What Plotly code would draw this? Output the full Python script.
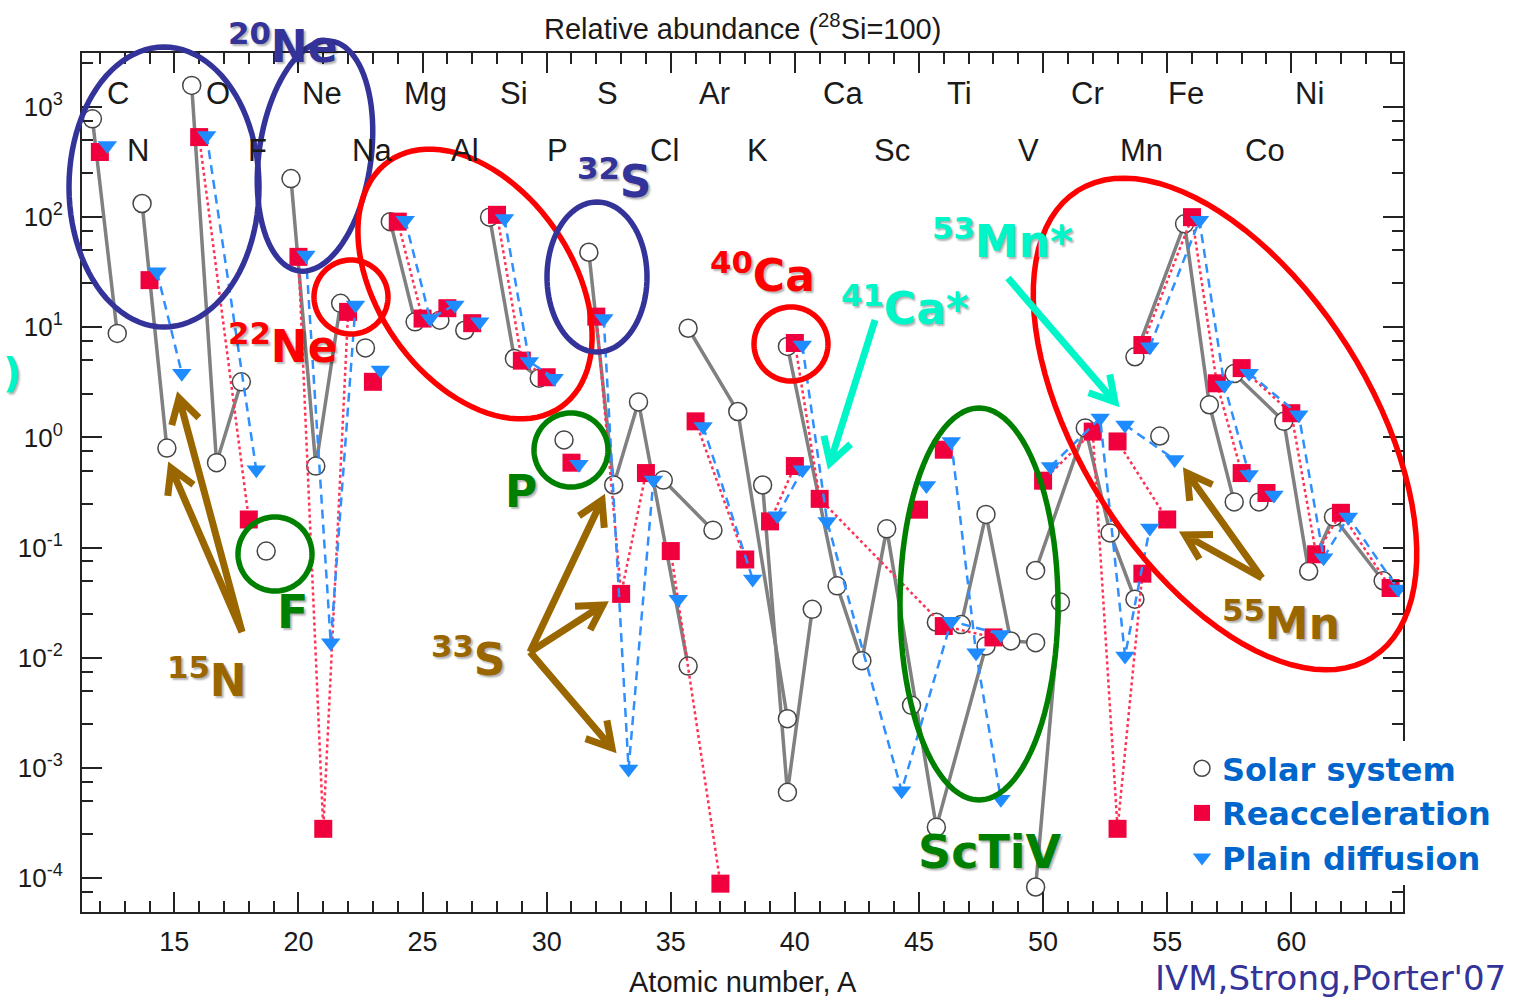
import math
import numpy as np
import plotly.graph_objects as go

# ---------------- data (relative abundance, 28Si = 100) ----------------
solar_el = ["C", "C", "N", "N", "O", "O", "O", "F", "Ne", "Ne", "Ne", "Na", "Mg", "Mg", "Mg", "Al",
            "Si", "Si", "Si", "P", "S", "S", "S", "S", "Cl", "Cl", "Ar", "Ar", "Ar", "K", "K", "K",
            "Ca", "Ca", "Ca", "Ca", "Ca", "Ca", "Sc", "Ti", "Ti", "Ti", "Ti", "Ti", "V", "V",
            "Cr", "Cr", "Cr", "Cr", "Mn", "Fe", "Fe", "Fe", "Fe", "Co", "Ni", "Ni", "Ni", "Ni", "Ni"]
solar_A = [12, 13, 14, 15, 16, 17, 18, 19, 20, 21, 22, 23, 24, 25, 26, 27,
           28, 29, 30, 31, 32, 33, 34, 36, 35, 37, 36, 38, 40, 39, 40, 41,
           40, 42, 43, 44, 46, 48, 45, 46, 47, 48, 49, 50, 50, 51,
           50, 52, 53, 54, 55, 54, 56, 57, 58, 59, 58, 60, 61, 62, 64]
solar_val = [780, 8.8, 133, 0.80, 1570, 0.59, 3.2, 0.093, 224, 0.55, 16.5, 6.5, 91, 11.2, 11.6, 9.4,
             100, 5.2, 3.45, 0.95, 48, 0.37, 2.1, 0.0084, 0.41, 0.144, 9.8, 1.72, 0.0028, 0.37, 6.0e-4, 0.0275,
             6.7, 0.045, 0.0094, 0.148, 2.9e-4, 0.0128, 0.0037, 0.021, 0.020, 0.20, 0.0142, 0.0137, 8.3e-5, 0.032,
             0.062, 1.22, 0.136, 0.034, 1.03, 5.4, 87, 1.98, 0.26, 0.26, 3.8, 1.40, 0.061, 0.19, 0.050]

reacc_el = ["C", "N", "O", "O", "Ne", "Ne", "Ne", "Na", "Mg", "Mg", "Mg", "Al", "Si", "Si", "Si", "P",
            "S", "S", "S", "Cl", "Cl", "Ar", "Ar", "K", "K", "Ca", "Ca", "Ca", "Ca", "Sc", "Ti",
            "Cr", "Cr", "Cr", "Cr", "Mn", "Mn", "Fe", "Fe", "Fe", "Fe", "Co", "Ni", "Ni", "Ni", "Ni", "Ni"]
reacc_A = [12, 14, 16, 18, 20, 21, 22, 23, 24, 25, 26, 27, 28, 29, 30, 31,
           32, 33, 34, 35, 37, 36, 38, 39, 40, 40, 41, 46, 48, 45, 46,
           50, 52, 53, 54, 53, 55, 54, 56, 57, 58, 59, 58, 60, 61, 62, 64]
reacc_val = [390, 26.8, 533, 0.18, 43.6, 2.8e-4, 13.8, 3.2, 91, 12.0, 14.9, 10.9, 105, 4.98, 3.52, 0.59,
             12.5, 0.038, 0.475, 0.093, 8.9e-5, 1.40, 0.078, 0.173, 0.55, 7.2, 0.277, 0.0194, 0.0153, 0.221, 0.774,
             0.405, 1.13, 2.8e-4, 0.058, 0.92, 0.18, 6.9, 100, 3.1, 0.475, 0.313, 4.26, 1.66, 0.087, 0.207, 0.043]

plain_el = ["C", "N", "N", "O", "O", "Ne", "Ne", "Ne", "Na", "Mg", "Mg", "Mg", "Al", "Si", "Si", "Si", "P",
            "S", "S", "S", "Cl", "Ar", "Ar", "K", "K", "Ca", "Ca", "Ca", "Ca", "Ca", "Sc", "Ti", "Ti", "Ti",
            "Cr", "Cr", "Cr", "Cr", "Mn", "Mn", "Fe", "Fe", "Fe", "Fe", "Co", "Ni", "Ni", "Ni", "Ni", "Ni"]
plain_A = [12, 14, 15, 16, 18, 20, 21, 22, 23, 24, 25, 26, 27, 28, 29, 30, 31,
           32, 33, 34, 35, 36, 38, 39, 40, 40, 41, 44, 46, 48, 45, 46, 47, 48,
           50, 52, 53, 54, 53, 55, 54, 56, 57, 58, 59, 58, 60, 61, 62, 64]
plain_val = [448, 31.9, 3.83, 552, 0.51, 45.2, 0.0137, 15.9, 4.1, 93.8, 12.0, 15.9, 11.2, 97, 4.88, 3.45, 0.57,
             12.0, 9.8e-4, 0.41, 0.034, 1.26, 0.052, 0.195, 0.51, 6.9, 0.173, 6.2e-4, 0.0215, 0.0163, 0.366, 0.92, 0.0111, 5.2e-4,
             0.545, 1.50, 0.0104, 0.151, 1.30, 0.63, 6.67, 93.8, 3.0, 0.46, 0.30, 3.83, 1.61, 0.081, 0.19, 0.042]

row1_labels = ["C", "O", "Ne", "Mg", "Si", "S", "Ar", "Ca", "Ti", "Cr", "Fe", "Ni"]
row1_at = [12.73, 16.76, 20.95, 25.10, 28.68, 32.47, 36.78, 41.93, 46.64, 51.80, 55.77, 60.73]
row2_labels = ["N", "F", "Na", "Al", "P", "Cl", "K", "Sc", "V", "Mn", "Co"]
row2_at = [13.54, 18.37, 22.96, 26.71, 30.45, 34.76, 38.50, 43.90, 49.41, 53.96, 58.92]

x_ticks = [15, 20, 25, 30, 35, 40, 45, 50, 55, 60]
y_exps = [-4, -3, -2, -1, 0, 1, 2, 3]

for a, b, c in [(solar_el, solar_A, solar_val), (reacc_el, reacc_A, reacc_val), (plain_el, plain_A, plain_val)]:
    assert len(a) == len(b) == len(c), (len(a), len(b), len(c))

# ---------------- styles ----------------
W, H = 1539, 998
PL, PR, PT, PB = 82, 1403, 53, 912
GRAY = "rgb(128,128,128)"
RED = "#f0003c"
BLUE = "#1e8cff"
NAVY = "#333399"
BROWN = "#996600"
CYAN = "#00f5c8"
GREEN = "#008000"
AXC = "#222222"
TXT = "#1a1a1a"
SANS = "Liberation Sans, Arial, sans-serif"
COMIC = "Comic Sans MS, DejaVu Sans, sans-serif"


def segments(el, A, val, dx):
    xs, ys = [], []
    for i in range(len(el)):
        if i > 0 and el[i] != el[i - 1]:
            xs.append(None)
            ys.append(None)
        xs.append(A[i] + dx)
        ys.append(val[i])
    return xs, ys


def P(x, y):
    return (x - PL) / (PR - PL), (PB - y) / (PB - PT)


fig = go.Figure()

series = [
    ("Solar system", solar_el, solar_A, solar_val, -0.3,
     dict(color=GRAY, width=3.5),
     dict(symbol="circle", size=18, color="white", line=dict(color="rgb(70,70,70)", width=1.5))),
    ("Reacceleration", reacc_el, reacc_A, reacc_val, 0.0,
     dict(color="#ff3355", width=2.5, dash="dot"),
     dict(symbol="square", size=18, color=RED, line=dict(width=0))),
    ("Plain diffusion", plain_el, plain_A, plain_val, 0.3,
     dict(color="#2f8fff", width=2.5, dash="9px,6px"),
     dict(symbol="triangle-down", size=17, color=BLUE, line=dict(width=0))),
]
for name, el, A, val, dx, ln, mk in series:
    xs, ys = segments(el, A, val, dx)
    fig.add_trace(go.Scatter(x=xs, y=ys, mode="lines", line=ln, showlegend=False,
                             hoverinfo="skip", connectgaps=False))
    fig.add_trace(go.Scatter(x=[a + dx for a in A], y=val, mode="markers", marker=mk, name=name))

# ---------------- axes ----------------
minor_y = [m * 10.0 ** k for k in range(-5, 4) for m in (2.5, 5, 7.5)]
fig.update_xaxes(range=[11.28, 64.50], tickvals=x_ticks, ticktext=[str(v) for v in x_ticks],
                 ticks="inside", ticklen=20, tickwidth=2, tickcolor=AXC,
                 showline=True, linewidth=2, linecolor=AXC, mirror="allticks",
                 showgrid=False, zeroline=False, ticklabelstandoff=5,
                 tickfont=dict(family=SANS, size=27, color=TXT),
                 minor=dict(tickvals=list(range(12, 65)), ticks="inside", ticklen=11,
                            tickwidth=1.5, tickcolor=AXC, showgrid=False))
fig.update_yaxes(type="log", range=[-4.308, 3.490],
                 tickvals=[10.0 ** e for e in y_exps],
                 ticktext=["10<sup>%d</sup>" % e for e in y_exps],
                 ticks="inside", ticklen=20, tickwidth=2, tickcolor=AXC,
                 showline=True, linewidth=2, linecolor=AXC, mirror="allticks",
                 showgrid=False, zeroline=False, ticklabelstandoff=12,
                 tickfont=dict(family=SANS, size=26, color=TXT),
                 minor=dict(tickvals=minor_y, ticks="inside", ticklen=11,
                            tickwidth=1.5, tickcolor=AXC, showgrid=False))

# ---------------- element labels ----------------
ann = []
for lab, xa in zip(row1_labels, row1_at):
    ann.append(dict(x=xa, y=P(0, 93)[1], xref="x", yref="paper", text=lab, showarrow=False,
                    font=dict(family=SANS, size=31, color=TXT), xanchor="center", yanchor="middle"))
for lab, xa in zip(row2_labels, row2_at):
    ann.append(dict(x=xa, y=P(0, 150)[1], xref="x", yref="paper", text=lab, showarrow=False,
                    font=dict(family=SANS, size=31, color=TXT), xanchor="center", yanchor="middle"))

# titles
tx, ty = P(742, 27)
ann.append(dict(x=tx, y=ty, xref="paper", yref="paper", showarrow=False,
                text="Relative abundance (<sup>28</sup>Si=100)",
                font=dict(family=SANS, size=29, color=TXT), xanchor="center", yanchor="middle"))
tx, ty = P(743, 982)
ann.append(dict(x=tx, y=ty, xref="paper", yref="paper", showarrow=False,
                text="Atomic number, A",
                font=dict(family=SANS, size=29, color=TXT), xanchor="center", yanchor="middle"))

# hand-written overlay labels
SH = "2px 2px 2px rgba(0,0,0,0.30)"
hand = [
    ("<sup>20</sup>Ne", 283, 44, NAVY, 44),
    ("<sup>22</sup>Ne", 283, 343, "#ff0000", 44),
    ("<sup>32</sup>S", 614, 178, NAVY, 44),
    ("P", 521, 492, GREEN, 44),
    ("F", 292, 612, GREEN, 46),
    ("<sup>15</sup>N", 207, 677, BROWN, 44),
    ("<sup>33</sup>S", 468, 656, BROWN, 44),
    ("<sup>40</sup>Ca", 762, 272, "#ff0000", 44),
    ("<sup>41</sup>Ca*", 905, 305, CYAN, 44),
    ("<sup>53</sup>Mn*", 1002, 238, CYAN, 44),
    ("ScTiV", 990, 852, GREEN, 46),
    ("<sup>55</sup>Mn", 1281, 620, BROWN, 44),
    (")", 12, 373, CYAN, 40),
]
for t, x, y, c, s in hand:
    px_, py_ = P(x, y)
    ann.append(dict(x=px_, y=py_, xref="paper", yref="paper", text=t, showarrow=False,
                    font=dict(family=COMIC, size=s, color=c, weight="bold", shadow=SH),
                    xanchor="center", yanchor="middle"))
px_, py_ = P(1330, 978)
ann.append(dict(x=px_, y=py_, xref="paper", yref="paper", text="IVM,Strong,Porter'07", showarrow=False,
                font=dict(family=COMIC, size=34, color=NAVY), xanchor="center", yanchor="middle"))

# ---------------- ellipses and arrows (overlay drawing, pixel space) ----------------
shapes = []


def ellipse(cx, cy, a, b, rot, color, width=5.5):
    t = np.linspace(0, 2 * math.pi, 97)
    th = math.radians(rot)
    xs = cx + a * np.cos(t) * math.cos(th) - b * np.sin(t) * math.sin(th)
    ys = cy + a * np.cos(t) * math.sin(th) + b * np.sin(t) * math.cos(th)
    pts = [P(x, y) for x, y in zip(xs, ys)]
    path = "M " + " L ".join("%.5f,%.5f" % p for p in pts) + " Z"
    shapes.append(dict(type="path", path=path, xref="paper", yref="paper",
                       line=dict(color=color, width=width), layer="above"))


def arrow(x0, y0, x1, y1, color, width=7, head=28, ang=30):
    L = math.hypot(x1 - x0, y1 - y0)
    ux, uy = (x1 - x0) / L, (y1 - y0) / L
    wings = []
    for s in (1, -1):
        a = math.radians(s * ang)
        bx = -ux * math.cos(a) + uy * math.sin(a)
        by = -ux * math.sin(a) - uy * math.cos(a)
        wings.append((x1 + head * bx, y1 + head * by))
    p0, p1, w1, w2 = P(x0, y0), P(x1, y1), P(*wings[0]), P(*wings[1])
    path = "M %.5f,%.5f L %.5f,%.5f M %.5f,%.5f L %.5f,%.5f L %.5f,%.5f" % (
        p0[0], p0[1], p1[0], p1[1], w1[0], w1[1], p1[0], p1[1], w2[0], w2[1])
    shapes.append(dict(type="path", path=path, xref="paper", yref="paper",
                       line=dict(color=color, width=width), layer="above"))


ellipse(164, 187, 95, 140, 0, NAVY)
ellipse(315, 156, 56, 116, 8, NAVY)
ellipse(351, 297, 37, 37, 0, "#ff0000")
ellipse(475, 284, 150, 97, 55, "#ff0000")
ellipse(597, 277, 50, 75, 0, NAVY)
ellipse(571, 450, 37, 37, 0, GREEN)
ellipse(275, 554, 37, 37, 0, GREEN)
ellipse(791, 344, 37, 37, 0, "#ff0000")
ellipse(979, 604, 79, 196, 0, GREEN)
ellipse(1225, 424, 276, 145, 57.7, "#ff0000")

arrow(242, 632, 179, 398, BROWN)
arrow(242, 632, 171, 468, BROWN)
arrow(530, 652, 602, 500, BROWN)
arrow(530, 652, 603, 605, BROWN)
arrow(530, 652, 612, 748, BROWN)
arrow(875, 320, 830, 463, CYAN)
arrow(1008, 278, 1115, 402, CYAN)
arrow(1262, 578, 1187, 473, BROWN)
arrow(1262, 578, 1185, 535, BROWN)

lx, ly = P(1182, 741)
fig.update_layout(
    width=W, height=H,
    margin=dict(l=PL, r=W - PR, t=PT, b=H - PB, autoexpand=False),
    paper_bgcolor="white", plot_bgcolor="white",
    annotations=ann, shapes=shapes,
    legend=dict(x=lx, y=ly, xanchor="left", yanchor="top", bgcolor="white",
                font=dict(family=COMIC, size=32, color="#0066cc", weight="bold"),
                itemwidth=30, tracegroupgap=0),
    showlegend=True,
)

fig.write_html("out.html")
